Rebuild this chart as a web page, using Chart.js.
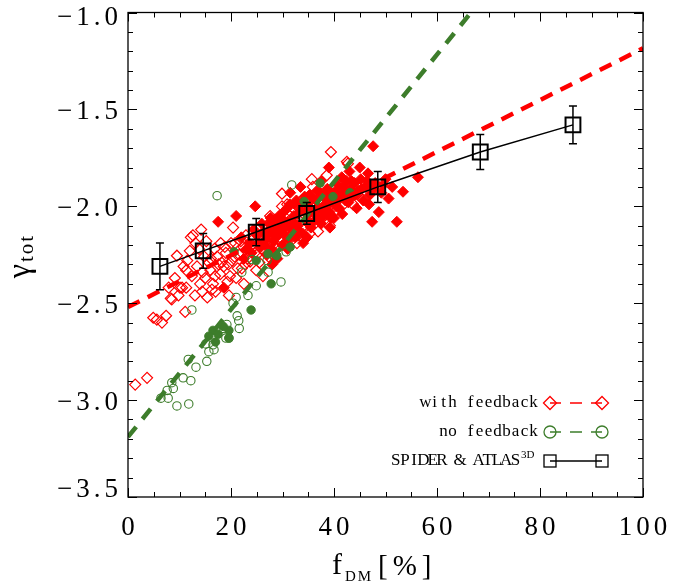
<!DOCTYPE html>
<html><head><meta charset="utf-8">
<script src="https://cdn.jsdelivr.net/npm/chart.js@4.4.1/dist/chart.umd.min.js"></script>
<style>html,body{margin:0;padding:0;background:#fff}canvas{display:block}</style>
</head><body>
<canvas id="c" width="673" height="583"></canvas>
<script>
// ---- data ----
const withFbOpen = [
[1.4,-2.92],[3.7,-2.885],[4.9,-2.575],[5.6,-2.585],[6.6,-2.60],[7.4,-2.565],[8.3,-2.475],[8.5,-2.48],
[10.1,-2.42],[10.5,-2.42],[11.3,-2.42],[11.1,-2.545],[9.5,-2.255],[11.5,-2.28],[12.2,-2.16],[12.6,-2.15],
[12.0,-2.23],[11.3,-2.33],[12.4,-2.36],[13.4,-2.31],[14.0,-2.40],[14.4,-2.44],[15.0,-2.37],[15.7,-2.29],
[16.3,-2.43],[16.0,-2.33],[16.8,-2.22],[17.3,-2.26],[17.9,-2.35],[18.2,-2.29],[18.6,-2.31],[19.0,-2.24],
[19.3,-2.39],[19.8,-2.36],[20.4,-2.11],[20.2,-2.28],[20.8,-2.19],[21.3,-2.32],[21.6,-2.25],[22.1,-2.32],
[22.4,-2.21],[22.9,-2.15],[23.2,-2.27],[23.7,-2.285],[24.1,-2.20],[24.6,-2.24],[25.2,-2.12],[25.5,-2.29],
[26.0,-2.18],[26.4,-2.23],[26.9,-2.10],[27.3,-2.26],[27.6,-2.05],[28.0,-2.15],[28.2,-2.20],[28.7,-2.11],
[29.1,-2.07],[29.5,-2.18],[29.9,-1.935],[29.9,-2.00],[30.3,-2.13],[30.9,-1.99],[31.1,-2.04],[31.6,-2.09],
[32.0,-2.17],[32.4,-2.02],[32.8,-2.19],[33.3,-2.06],[33.7,-1.97],[34.2,-2.10],[34.8,-2.01],[35.3,-2.14],
[35.7,-1.86],[35.9,-1.90],[36.4,-2.04],[36.9,-2.13],[37.3,-1.97],[37.8,-2.06],[38.3,-2.08],[38.6,-1.84],
[39.2,-2.10],[39.4,-1.72],[39.8,-1.95],[40.5,-2.02],[41.2,-1.92],[42.1,-1.90],[42.5,-1.77],[42.7,-1.78],
[43.7,-1.99],[44.1,-1.915],[45.6,-1.965],[18.0,-2.19],[14.8,-2.26],[13.1,-2.19],[16.5,-2.40],[21.0,-2.37],
[24.9,-2.33],[10.8,-2.31],[7.9,-2.42],[9.1,-2.37],[15.4,-2.47],[19.6,-2.46],
[13.8,-2.22],[14.5,-2.34],[15.2,-2.18],[16.1,-2.27],[16.9,-2.36],[17.6,-2.30],[18.8,-2.21],[19.5,-2.30],
[20.0,-2.19],[20.7,-2.26],[21.9,-2.18],[22.7,-2.30],[23.4,-2.23],[24.3,-2.16],[25.0,-2.25],[25.9,-2.22],
[26.7,-2.15],[27.8,-2.24],[28.5,-2.07],[29.3,-2.21],[30.6,-2.06],[31.9,-2.12],[33.0,-2.15],[34.5,-2.05],
[36.0,-1.98],[37.0,-2.02],[38.8,-1.97],[40.0,-1.90],[41.5,-2.00],[17.0,-2.44],[13.0,-2.46],[22.5,-2.40],
[26.2,-2.36],[9.8,-2.46],[14.2,-2.12]
];
const withFbFilled = [
[17.5,-2.08],[18.6,-2.42],[21.0,-2.05],[24.7,-2.00],[22.5,-2.27],[23.5,-2.19],[24.0,-2.24],[25.0,-2.15],
[25.8,-2.21],[26.3,-2.13],[26.8,-2.17],[27.4,-2.09],[27.9,-2.22],[28.4,-2.12],[28.8,-2.16],[29.3,-2.05],
[29.7,-2.11],[30.2,-2.03],[30.6,-2.15],[31.0,-2.08],[31.4,-1.99],[31.8,-2.12],[32.2,-2.05],[32.7,-1.97],
[33.0,-2.10],[33.5,-2.02],[33.9,-2.14],[34.3,-1.95],[34.7,-2.07],[35.1,-2.00],[35.5,-2.11],[35.9,-1.96],
[36.3,-2.04],[36.7,-1.92],[37.1,-2.01],[37.5,-2.09],[37.9,-1.95],[38.3,-1.99],[38.7,-1.91],[39.1,-2.03],
[39.2,-2.11],[39.6,-1.97],[40.0,-1.93],[40.4,-2.00],[40.8,-1.89],[41.2,-1.96],[41.6,-2.04],[42.0,-1.93],
[42.4,-1.87],[42.8,-1.98],[43.2,-1.91],[43.6,-1.95],[44.0,-1.88],[44.4,-2.01],[44.8,-1.92],[45.2,-1.86],
[45.7,-1.97],[46.1,-1.90],[46.6,-1.83],[47.0,-1.94],[47.4,-2.08],[47.6,-1.69],[48.0,-1.88],[48.7,-2.03],
[49.2,-1.93],[50.0,-1.86],[50.6,-1.96],[51.3,-1.90],[52.2,-2.08],[53.4,-1.925],[56.3,-1.85],[30.0,-2.20],
[32.5,-2.16],[34.0,-2.19],[36.0,-2.08],[38.0,-2.05],[40.0,-2.06],[27.0,-2.25],[29.0,-2.27],[31.5,-1.93],
[33.5,-1.90],[37.5,-1.87],[41.5,-1.85],[43.0,-1.82],[45.0,-1.80],[39.0,-1.80],
[22.0,-2.16],[23.0,-2.22],[24.4,-2.12],[25.4,-2.19],[26.0,-2.09],[26.6,-2.20],[27.2,-2.13],[27.7,-2.06],
[28.2,-2.18],[28.6,-2.08],[29.5,-2.14],[30.0,-2.07],[30.4,-2.11],[30.9,-2.01],[31.2,-2.17],[32.0,-2.08],
[32.4,-1.99],[32.9,-2.04],[33.2,-2.13],[33.8,-1.98],[34.5,-2.03],[35.0,-2.09],[35.3,-1.94],[35.8,-2.02],
[36.5,-1.97],[36.9,-2.07],[37.3,-1.93],[37.7,-2.02],[38.5,-1.96],[39.0,-1.93],[39.4,-2.06],[40.2,-1.96],
[40.6,-1.92],[41.0,-2.01],[41.8,-1.90],[42.2,-1.97],[43.4,-1.87],[44.2,-1.94],[45.4,-1.91],[46.4,-1.87],
[46.8,-1.99],[47.8,-1.91],[49.5,-1.89],[34.8,-2.16],[31.0,-2.22],[28.0,-2.30]
];
const noFbOpen = [
[12.4,-2.535],[21.2,-2.565],[19.2,-2.61],[21.6,-2.63],[19.0,-2.68],[19.6,-2.68],[15.1,-2.71],[16.5,-2.715],
[15.7,-2.75],[16.7,-2.74],[15.3,-2.80],[11.7,-2.79],[13.2,-2.83],[10.7,-2.885],[12.2,-2.90],[8.5,-2.91],
[8.8,-2.94],[7.6,-2.95],[6.4,-2.99],[7.8,-2.99],[9.5,-3.03],[11.8,-3.02],[24.1,-2.275],[27.0,-2.28],
[30.7,-2.235],[22.1,-2.34],[27.2,-2.34],[24.9,-2.41],[29.7,-2.39],[23.3,-2.46],[21.0,-2.47],[20.4,-2.50],
[17.3,-1.945],[31.8,-1.89],[21.5,-2.59],[18.5,-2.63]
];
const noFbFilled = [
[23.9,-2.535],[16.5,-2.64],[15.7,-2.67],[17.5,-2.66],[19.6,-2.64],[19.6,-2.68],[20.6,-2.235],[24.9,-2.28],
[28.9,-2.255],[31.5,-2.21],[27.8,-2.40],[27.2,-2.245],[37.3,-1.88],[39.8,-1.95],[43.1,-1.93],[34.2,-1.975],
[18.5,-2.62],[17.0,-2.70]
];
// fitted relations (end points)
const fbFitX = [0, 100];
const fbFitY = [-2.52, -1.185];
const noFbFitX = [0, 66.6];
const noFbFitY = [-3.19, -1.0];
// SPIDER & ATLAS3D binned values
const obsX = [6.2, 14.6, 24.9, 34.7, 48.5, 68.4, 86.4];
const obsY = [-2.31, -2.23, -2.133, -2.037, -1.90, -1.72, -1.58];
const obsErr = [0.12, 0.09, 0.07, 0.056, 0.08, 0.09, 0.097];
// axes
const xTickValues = [0, 20, 40, 60, 80, 100];
const xTickLabels = ['0', '20', '40', '60', '80', '100'];
const yTickValues = [-1.0, -1.5, -2.0, -2.5, -3.0, -3.5];
const yTickLabels = ['\u22121.0', '\u22121.5', '\u22122.0', '\u22122.5', '\u22123.0', '\u22123.5'];
const xMinorStep = 5, yMinorStep = 0.1;
const legendLabels = ['with feedback', 'no feedback', 'SPIDER & ATLAS'];

const RED = '#ff0000', GREEN = '#3d7d2b', BLACK = '#000000';
const pts = a => a.map(p => ({x: p[0], y: p[1]}));
const zip = (xs, ys) => xs.map((x, i) => ({x, y: ys[i]}));

function spacedText(ctx, text, x, y, ls, align) {
  let w = 0; const ws = [];
  for (const ch of text) { const m = ctx.measureText(ch).width; ws.push(m); w += m; }
  w += ls * (ws.length - 1);
  let cx = align === 'right' ? x - w : align === 'center' ? x - w / 2 : x;
  ctx.textAlign = 'left';
  let i = 0;
  for (const ch of text) { ctx.fillText(ch, cx, y); cx += ws[i++] + ls; }
  return w;
}
function monoText(ctx, text, xRight, y, adv) {
  const n = [...text].length;
  let cx = xRight - n * adv;
  ctx.textAlign = 'center';
  for (const ch of text) { ctx.fillText(ch, cx + adv / 2, y); cx += adv; }
}

const decor = {
  id: 'decor',
  afterDatasetsDraw(chart) {
    const ctx = chart.ctx, xs = chart.scales.x, ys = chart.scales.y;
    ctx.save();
    ctx.strokeStyle = BLACK; ctx.lineWidth = 1.5;
    obsX.forEach((xv, i) => {
      const px = xs.getPixelForValue(xv);
      const t = ys.getPixelForValue(obsY[i] + obsErr[i]);
      const b = ys.getPixelForValue(obsY[i] - obsErr[i]);
      ctx.beginPath();
      ctx.moveTo(px, t); ctx.lineTo(px, b);
      ctx.moveTo(px - 4, t); ctx.lineTo(px + 4, t);
      ctx.moveTo(px - 4, b); ctx.lineTo(px + 4, b);
      ctx.stroke();
    });
    ctx.restore();
  },
  afterDraw(chart) {
    const ctx = chart.ctx, xs = chart.scales.x, ys = chart.scales.y, a = chart.chartArea;
    ctx.save();
    ctx.strokeStyle = '#000'; ctx.lineWidth = 1.3;
    ctx.strokeRect(a.left, a.top, a.right - a.left, a.bottom - a.top);
    ctx.lineWidth = 1;
    ctx.beginPath();
    for (let v = xs.min; v <= xs.max + 1e-6; v += xMinorStep) {
      const px = Math.round(xs.getPixelForValue(v)) + 0.5;
      const major = xTickValues.some(t => Math.abs(t - v) < 1e-6);
      const L = major ? 9 : 5;
      ctx.moveTo(px, a.bottom); ctx.lineTo(px, a.bottom - L);
      ctx.moveTo(px, a.top); ctx.lineTo(px, a.top + L);
    }
    for (let k = 0; k <= Math.round((ys.max - ys.min) / yMinorStep); k++) {
      const v = ys.min + k * yMinorStep;
      const py = Math.round(ys.getPixelForValue(v)) + 0.5;
      const major = yTickValues.some(t => Math.abs(t - v) < 1e-6);
      const L = major ? 9 : 5;
      ctx.moveTo(a.left, py); ctx.lineTo(a.left + L, py);
      ctx.moveTo(a.right, py); ctx.lineTo(a.right - L, py);
    }
    ctx.stroke();
    ctx.fillStyle = '#000';
    ctx.font = '27px "Liberation Serif"';
    ctx.textBaseline = 'middle';
    yTickValues.forEach((v, i) => {
      let py = ys.getPixelForValue(v) + 3;
      py = Math.min(Math.max(py, 18), 490);
      spacedText(ctx, yTickLabels[i], a.left - 10, py, 4, 'right');
    });
    xTickValues.forEach((v, i) => {
      spacedText(ctx, xTickLabels[i], xs.getPixelForValue(v), 528, 4, 'center');
    });
    ctx.textBaseline = 'alphabetic';
    ctx.font = '30px "Liberation Serif"';
    spacedText(ctx, 'f', 332, 574, 0, 'left');
    ctx.font = '15px "Liberation Serif"';
    spacedText(ctx, 'DM', 345, 581, 2, 'left');
    ctx.font = '29px "Liberation Serif"';
    spacedText(ctx, '[%]', 378, 575, 5, 'left');
    ctx.save();
    ctx.rotate(-Math.PI / 2);
    ctx.font = '32px "Liberation Serif"';
    const gw = ctx.measureText('\u03b3').width;
    ctx.font = '21px "Liberation Serif"';
    let tw = 0; for (const ch of 'tot') tw += ctx.measureText(ch).width; tw += 2 * 2;
    const total = gw + 2 + tw;
    const cy = 257;
    ctx.font = '32px "Liberation Serif"';
    ctx.textAlign = 'left';
    ctx.fillText('\u03b3', -cy - total / 2, 29);
    ctx.font = '21px "Liberation Serif"';
    spacedText(ctx, 'tot', -cy - total / 2 + gw + 2, 33, 2, 'left');
    ctx.restore();
    // legend
    ctx.font = '17px "Liberation Serif"';
    ctx.textBaseline = 'middle';
    const rows = [403, 432, 461];
    monoText(ctx, legendLabels[0], 538, rows[0], 9);
    monoText(ctx, legendLabels[1], 538, rows[1], 9);
    monoText(ctx, legendLabels[2], 520, rows[2], 9.2);
    ctx.font = '11px "Liberation Serif"';
    ctx.textAlign = 'left';
    ctx.fillText('3D', 521, rows[2] - 6);
    const x1 = 550, x2 = 602;
    ctx.lineWidth = 1.3;
    ctx.strokeStyle = RED;
    ctx.beginPath();
    ctx.moveTo(x1, rows[0]); ctx.lineTo(x1 + 11, rows[0]);
    ctx.moveTo(x1 + 20, rows[0]); ctx.lineTo(x1 + 32, rows[0]);
    ctx.moveTo(x1 + 41, rows[0]); ctx.lineTo(x2, rows[0]);
    ctx.stroke();
    [x1, x2].forEach(x => {
      ctx.beginPath();
      ctx.moveTo(x - 6.5, rows[0]); ctx.lineTo(x, rows[0] - 6.5); ctx.lineTo(x + 6.5, rows[0]); ctx.lineTo(x, rows[0] + 6.5); ctx.closePath();
      ctx.stroke();
    });
    ctx.strokeStyle = GREEN;
    ctx.beginPath();
    ctx.moveTo(x1, rows[1]); ctx.lineTo(x1 + 11, rows[1]);
    ctx.moveTo(x1 + 20, rows[1]); ctx.lineTo(x1 + 32, rows[1]);
    ctx.moveTo(x1 + 41, rows[1]); ctx.lineTo(x2, rows[1]);
    ctx.stroke();
    [x1, x2].forEach(x => { ctx.beginPath(); ctx.arc(x, rows[1], 6, 0, Math.PI * 2); ctx.stroke(); });
    ctx.strokeStyle = BLACK;
    ctx.beginPath(); ctx.moveTo(x1, rows[2]); ctx.lineTo(x2, rows[2]); ctx.stroke();
    [x1, x2].forEach(x => ctx.strokeRect(x - 6, rows[2] - 6, 12, 12));
    ctx.restore();
  }
};

new Chart(document.getElementById('c'), {
  type: 'scatter',
  data: {
    datasets: [
      { label: 'SPIDER & ATLAS3D', data: zip(obsX, obsY), showLine: true, borderColor: BLACK, borderWidth: 1.5,
        pointStyle: 'rect', pointRadius: 10.5, pointBorderWidth: 2, pointBorderColor: BLACK,
        pointBackgroundColor: 'rgba(0,0,0,0)', order: 0 },
      { label: 'no feedback fit', data: zip(noFbFitX, noFbFitY), showLine: true, borderColor: GREEN, borderWidth: 4.5,
        borderDash: [13, 10], pointRadius: 0, order: 1 },
      { label: 'with feedback fit', data: zip(fbFitX, fbFitY), showLine: true, borderColor: RED, borderWidth: 4.5,
        borderDash: [13, 9], pointRadius: 0, order: 2 },
      { label: 'no feedback (filled)', data: pts(noFbFilled), pointStyle: 'circle', pointRadius: 4.2,
        pointBackgroundColor: GREEN, pointBorderColor: GREEN, pointBorderWidth: 1, order: 3 },
      { label: 'no feedback', data: pts(noFbOpen), pointStyle: 'circle', pointRadius: 4.2,
        pointBackgroundColor: 'rgba(0,0,0,0)', pointBorderColor: GREEN, pointBorderWidth: 1.1, order: 4 },
      { label: 'with feedback (filled)', data: pts(withFbFilled), pointStyle: 'rectRot', pointRadius: 5.5,
        pointBackgroundColor: RED, pointBorderColor: RED, pointBorderWidth: 1, order: 5 },
      { label: 'with feedback', data: pts(withFbOpen), pointStyle: 'rectRot', pointRadius: 5.5,
        pointBackgroundColor: 'rgba(0,0,0,0)', pointBorderColor: RED, pointBorderWidth: 1.2, order: 6 }
    ]
  },
  options: {
    responsive: false, animation: false, events: [],
    layout: { padding: { top: 5, right: 30, left: 0, bottom: 0 } },
    plugins: { legend: { display: false }, tooltip: { enabled: false } },
    scales: {
      x: { type: 'linear', min: 0, max: 100, grid: { display: false }, border: { display: false },
           ticks: { display: false }, afterFit(s) { s.height = 86; } },
      y: { type: 'linear', min: -3.5, max: -1.0, grid: { display: false }, border: { display: false },
           ticks: { display: false }, afterFit(s) { s.width = 128; } }
    }
  },
  plugins: [decor]
});
</script>
</body></html>
